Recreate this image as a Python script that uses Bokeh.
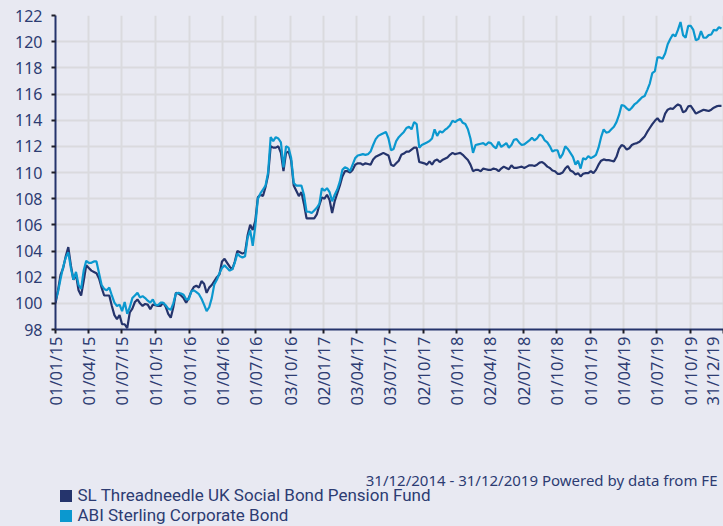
import pandas as pd
from math import pi
from bokeh.plotting import figure
from bokeh.layouts import column
from bokeh.models import (Range1d, FixedTicker, DatetimeTickFormatter, Label,
                          Legend, LegendItem, ColumnDataSource, GlobalInlineStyleSheet)
from bokeh.embed import file_html
from bokeh.resources import INLINE

# ---------------- data (weekly readings from 01/01/15) ----------------
fund_name = "SL Threadneedle UK Social Bond Pension Fund"
sector_name = "ABI Sterling Corporate Bond"

fund = [
    100.0, 101.0, 102.2, 102.7, 103.6, 104.3, 102.9, 101.8, 102.2, 101.0,
    100.6, 101.7, 102.9, 102.7, 102.5, 102.4, 102.3, 101.9, 101.2, 100.6,
    100.6, 100.6, 99.8, 99.1, 98.8, 99.1, 98.4, 98.4, 98.1, 99.3,
    99.6, 100.1, 100.3, 100.0, 99.8, 99.95, 99.9, 99.55, 99.9, 99.85,
    99.8, 99.8, 100.05, 99.75, 99.2, 98.9, 99.7, 100.8, 100.75, 100.6,
    100.4, 100.05, 100.4, 100.9, 101.25, 101.35, 101.2, 101.7, 101.5, 100.8,
    101.2, 101.4, 101.7, 102.0, 102.2, 103.2, 103.4, 103.1, 102.8, 102.6,
    103.2, 104.0, 103.9, 103.8, 103.9, 105.2, 106.0, 105.6, 106.3, 108.1,
    108.3, 108.2, 108.9, 109.8, 112.0, 111.9, 111.9, 112.0, 111.5, 110.1,
    111.5, 111.6, 110.9, 109.0, 108.6, 108.2, 108.5, 107.6, 106.5, 106.5,
    106.5, 106.5, 106.8, 107.5, 108.1, 108.0, 108.3, 107.9, 106.9, 107.8,
    108.4, 109.0, 109.7, 110.1, 110.1, 110.0, 110.2, 110.6, 110.7, 110.7,
    110.6, 110.7, 110.65, 110.6, 111.0, 111.2, 111.3, 111.4, 111.5, 111.4,
    111.3, 110.6, 110.5, 110.7, 110.9, 111.35, 111.45, 111.6, 111.6, 111.75,
    111.9, 111.9, 110.8, 110.75, 110.7, 110.6, 110.85, 110.6, 110.9, 111.0,
    110.8, 110.95, 111.05, 111.15, 111.35, 111.5, 111.4, 111.45, 111.5, 111.35,
    111.15, 110.95, 110.6, 110.1, 110.2, 110.2, 110.1, 110.3, 110.25, 110.2,
    110.2, 110.3, 110.25, 110.1, 110.3, 110.45, 110.35, 110.25, 110.55, 110.35,
    110.35, 110.4, 110.45, 110.35, 110.45, 110.55, 110.55, 110.5, 110.6, 110.75,
    110.8, 110.65, 110.45, 110.35, 110.15, 110.1, 109.9, 109.9, 110.0, 110.3,
    110.5, 110.15, 110.05, 109.85, 109.95, 109.7, 109.9, 109.95, 109.95, 110.1,
    109.95, 110.2, 110.6, 110.9, 111.0, 110.95, 110.95, 110.9, 110.85, 111.2,
    111.8, 112.1, 112.0, 111.75, 111.85, 112.1, 112.2, 112.25, 112.35, 112.55,
    112.75, 113.1, 113.4, 113.7, 113.95, 114.15, 113.9, 113.9, 114.5, 114.8,
    114.9, 114.85, 115.05, 115.2, 115.1, 114.6, 114.7, 115.05, 115.1, 114.8,
    114.5, 114.6, 114.7, 114.8, 114.75, 114.7, 114.8, 114.95, 115.05, 115.1,
    115.1,
]

sector = [
    100.2, 100.9, 101.9, 102.8, 103.5, 103.9, 102.7, 101.8, 102.4, 101.4,
    101.1, 102.5, 103.25, 103.1, 103.1, 103.2, 103.2, 102.3, 101.4, 101.1,
    101.0, 101.2, 100.6, 100.05, 99.8, 99.9, 99.4, 100.1, 99.2, 99.7,
    100.4, 100.6, 100.8, 100.45, 100.55, 100.4, 100.2, 100.05, 100.3, 99.9,
    99.85, 100.05, 100.05, 99.85, 99.6, 99.5, 100.0, 100.75, 100.8, 100.75,
    100.65, 100.3, 100.3, 100.9, 101.0, 100.85, 100.7, 100.35, 99.9, 99.4,
    99.7, 100.4, 101.45, 101.8, 102.3, 102.7, 102.9, 102.7, 102.5, 102.6,
    103.1, 103.8, 103.6, 103.5, 103.6, 105.0, 105.6, 104.4, 105.9, 108.0,
    108.4, 108.7, 109.0, 110.0, 112.7, 112.4, 112.7, 112.6, 112.3, 110.4,
    112.0, 111.9, 111.1, 109.2, 109.0, 109.0, 109.0, 108.3, 107.0, 107.0,
    106.9, 107.1, 107.3, 107.6, 108.8, 108.6, 108.8, 108.5, 107.8, 108.3,
    108.7, 109.3, 110.2, 110.4, 110.3, 110.1, 110.6, 111.1, 111.3, 111.35,
    111.4, 111.35, 111.4, 111.6, 112.1, 112.55, 112.8, 112.9, 113.0, 113.1,
    112.6, 111.7, 111.8, 112.4, 112.7, 112.9, 113.1, 113.4, 113.5, 113.3,
    113.85, 113.7, 111.9, 112.1, 112.2, 112.3, 112.4, 112.6, 113.3, 112.8,
    113.15, 113.05, 113.25, 113.4, 113.6, 113.95, 113.85, 114.0, 114.1, 113.8,
    113.7, 113.3, 112.6, 111.5, 112.1, 112.15, 112.2, 112.25, 112.1, 112.3,
    112.25, 112.0, 111.85, 112.35, 111.95, 112.1, 112.25, 111.9, 112.1, 112.5,
    112.55, 112.3, 112.1, 112.15, 112.3, 112.45, 112.65, 112.45, 112.6, 112.9,
    112.8, 112.45, 112.3, 112.0, 111.6, 111.7, 111.7, 111.1, 111.4, 112.0,
    111.8, 111.5, 111.2, 110.6, 110.9, 110.3, 111.1, 111.0, 111.25, 111.1,
    111.2, 111.35, 111.9, 112.7, 113.3, 113.05, 113.1, 113.3, 113.5, 113.85,
    114.4, 115.15, 115.1, 114.9, 114.75, 114.95, 115.2, 115.35, 115.55, 115.75,
    115.85, 116.3, 116.8, 117.6, 117.75, 118.8, 118.8, 118.7, 119.1, 119.8,
    120.2, 120.55, 120.4, 120.9, 121.5, 120.5, 120.3, 121.2, 121.2, 120.9,
    120.1, 120.2, 120.8, 120.3, 120.3, 120.5, 120.55, 120.9, 120.85, 121.1,
    121.0,
]

dates = pd.date_range("2015-01-01", periods=len(fund), freq="7D")

tick_dates = ["2015-01-01", "2015-04-01", "2015-07-01", "2015-10-01",
              "2016-01-01", "2016-04-01", "2016-07-01", "2016-10-03",
              "2017-01-02", "2017-04-03", "2017-07-03", "2017-10-02",
              "2018-01-01", "2018-04-02", "2018-07-02", "2018-10-01",
              "2019-01-01", "2019-04-01", "2019-07-01", "2019-10-01",
              "2019-12-31"]
y_ticks = [98, 100, 102, 104, 106, 108, 110, 112, 114, 116, 118, 120, 122]
period_text = "31/12/2014 - 31/12/2019 Powered by data from FE"

# ---------------- styling ----------------
BG = "#e8e9f2"
GRID = "#dadade"
NAVY = "#25346c"
BLUE = "#0b98cf"
TEXT = "#2d3c72"
FONT = "Noto Sans"
LEGEND_FONT = "Roboto"
W = 723

def ms(d):
    return pd.Timestamp(d).value / 1e6

x_start = ms("2015-01-01")
x_end = ms("2019-12-31") + 0.5 * 86400000.0

source = ColumnDataSource(dict(date=dates, fund=fund[:len(dates)], sector=sector[:len(dates)]))

p = figure(width=W, height=420, x_axis_type="datetime",
           output_backend="svg", toolbar_location=None,
           x_range=Range1d(x_start, x_end), y_range=Range1d(98, 122),
           min_border_left=55, min_border_right=0,
           min_border_top=15, min_border_bottom=91)

p.background_fill_color = BG
p.border_fill_color = BG
p.outline_line_color = None
p.stylesheets = [GlobalInlineStyleSheet(css="html, body { background-color: %s; }" % BG)]

p.xaxis.ticker = FixedTicker(ticks=[ms(d) for d in tick_dates])
p.yaxis.ticker = FixedTicker(ticks=y_ticks)
fmt = "%d/%m/%y"
p.xaxis.formatter = DatetimeTickFormatter(
    microseconds=fmt, milliseconds=fmt, seconds=fmt, minsec=fmt, minutes=fmt,
    hourmin=fmt, hours=fmt, days=fmt, months=fmt, years=fmt)
p.xaxis.major_label_orientation = pi / 2

for ax in (p.xaxis, p.yaxis):
    ax.axis_line_color = NAVY
    ax.axis_line_width = 2
    ax.major_tick_line_color = "#1e1e28"
    ax.major_tick_line_width = 2
    ax.major_tick_out = 4
    ax.major_tick_in = 0
    ax.minor_tick_line_color = None
    ax.major_label_text_color = TEXT
    ax.major_label_text_font = FONT
    ax.major_label_text_font_size = "16px"
p.xaxis.major_label_text_font_size = "16.5px"
p.yaxis.major_label_standoff = 9
p.xaxis.major_label_standoff = 3

p.grid.grid_line_color = GRID
p.grid.grid_line_width = 2

p.line("date", "fund", source=source, line_color=NAVY, line_width=2.2)
p.line("date", "sector", source=source, line_color=BLUE, line_width=2.2)

# ---------------- footer: source note and legend ----------------
# (frames of the column's plots are aligned, so f's frame starts at x=55)
f = figure(width=W, height=106, output_backend="svg", toolbar_location=None,
           x_range=Range1d(0, 1), y_range=Range1d(0, 1),
           x_axis_location=None, y_axis_location=None,
           min_border=0)
f.background_fill_color = BG
f.border_fill_color = BG
f.outline_line_color = None
f.grid.visible = False

# swatch renderers: the series' own rows, lying outside this footer's ranges
q1 = f.quad(left="date", right="date", bottom="fund", top="fund", source=source,
            fill_color=NAVY, line_color=None)
q2 = f.quad(left="date", right="date", bottom="sector", top="sector", source=source,
            fill_color=BLUE, line_color=None)

legend_style = dict(orientation="vertical", padding=0, margin=0, spacing=0,
                    glyph_width=15, glyph_height=15, label_height=16,
                    label_standoff=5, border_line_color=None,
                    background_fill_alpha=0,
                    label_text_font=LEGEND_FONT, label_text_font_size="17px",
                    label_text_color=TEXT)
f.add_layout(Legend(items=[LegendItem(label=fund_name, renderers=[q1])],
                    location=(2.5, 21), **legend_style))
f.add_layout(Legend(items=[LegendItem(label=sector_name, renderers=[q2])],
                    location=(2.5, 1), **legend_style))

f.add_layout(Label(x=662, y=47, x_units="screen", y_units="screen",
                   text=period_text, text_align="right", text_baseline="middle",
                   text_font=FONT, text_font_size="15px", text_color=TEXT))

layout = column(p, f, spacing=0)
open("out.html", "w").write(file_html(layout, INLINE))
